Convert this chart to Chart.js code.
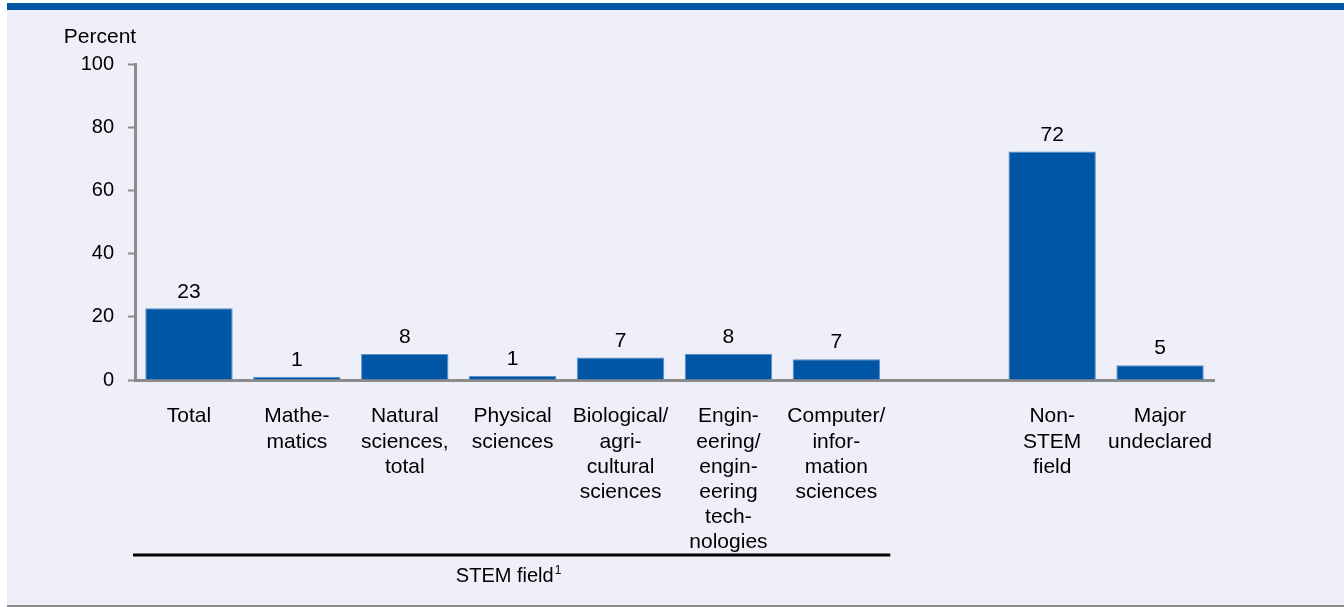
<!DOCTYPE html>
<html>
<head>
<meta charset="utf-8">
<script src="https://cdn.jsdelivr.net/npm/chart.js@4/dist/chart.umd.min.js"></script>
<style>
html,body{margin:0;padding:0;background:#fff;}
#frame{position:absolute;left:7px;top:3px;width:1337px;height:595px;background:#eeeff8;border-top:7px solid #0055a5;border-bottom:2px solid #8c8c8c;}
#wrap{position:absolute;left:0;top:0;width:1344px;height:607px;}
</style>
</head>
<body>
<div id="frame"></div>
<div id="wrap"><canvas id="chart"></canvas></div>
<script>
// категории (пустая — разрыв между STEM и остальными)
const categories = [
  ["Total"],
  ["Mathe-","matics"],
  ["Natural","sciences,","total"],
  ["Physical","sciences"],
  ["Biological/","agri-","cultural","sciences"],
  ["Engin-","eering/","engin-","eering","tech-","nologies"],
  ["Computer/","infor-","mation","sciences"],
  [""],
  ["Non-","STEM","field"],
  ["Major","undeclared"]
]
const percent = [22.7, 1.0, 8.2, 1.3, 7.1, 8.3, 6.6, null, 72.3, 4.7]
const valueLabels = ["23","1","8","1","7","8","7","","72","5"]
const yTicks = [0, 20, 40, 60, 80, 100]
const stemFirst = 0, stemLast = 6
const stemTitle = "STEM field"

const FONT = "'Liberation Sans', Arial, sans-serif"

const extras = {
  id: "extras",
  afterDatasetsDraw(chart){
    const c = chart.ctx
    const meta = chart.getDatasetMeta(0)
    const x = chart.scales.x
    c.save()
    c.fillStyle = "#000"
    c.font = "21px " + FONT
    c.textAlign = "center"
    c.textBaseline = "bottom"
    meta.data.forEach((bar,i)=>{
      if(percent[i]===null) return
      c.fillText(valueLabels[i], bar.x, bar.y - 6)
    })
    // подпись оси
    c.textBaseline = "middle"
    c.fillText("Percent", 100, 37)
    // скобка STEM
    const step = x.getPixelForValue(1) - x.getPixelForValue(0)
    const x0 = x.getPixelForValue(stemFirst) - step/2 - 2
    const x1 = x.getPixelForValue(stemLast) + step/2
    c.strokeStyle = "#000"
    c.lineWidth = 3
    c.beginPath()
    c.moveTo(x0, 555)
    c.lineTo(x1, 555)
    c.stroke()
    const tx = (x0 + x1)/2
    c.font = "20px " + FONT
    c.textAlign = "right"
    c.fillText(stemTitle, tx + 42, 576)
    c.font = "12px " + FONT
    c.textAlign = "left"
    c.fillText("1", tx + 43, 571)
    c.restore()
  }
}

new Chart(document.getElementById("chart"), {
  type: "bar",
  data: {
    labels: categories,
    datasets: [{
      data: percent,
      backgroundColor: "#0055a5",
      borderColor: "#5b8fc9",
      borderWidth: 1,
      categoryPercentage: 1,
      barPercentage: 0.81
    }]
  },
  plugins: [extras],
  options: {
    responsive: true,
    maintainAspectRatio: false,
    animation: false,
    layout: { padding: { top: 64, right: 130, left: 0, bottom: 0 } },
    plugins: { legend: { display: false }, tooltip: { enabled: false } },
    scales: {
      x: {
        grid: { display: false, drawTicks: false },
        border: { color: "#8c8c8c", width: 3 },
        ticks: {
          color: "#000",
          font: { family: FONT, size: 21, lineHeight: 1.2 },
          padding: 24,
          maxRotation: 0,
          autoSkip: false
        },
        afterFit(s){ s.height = 227 }
      },
      y: {
        min: 0, max: 100,
        afterBuildTicks(s){ s.ticks = yTicks.map(v=>({value:v})) },
        grid: { display: true, drawOnChartArea: false, drawTicks: true, tickLength: 7, tickColor: "#8c8c8c", tickWidth: 2 },
        border: { color: "#8c8c8c", width: 3 },
        ticks: { color: "#000", font: { family: FONT, size: 20 }, padding: 14 },
        afterFit(s){ s.width = 135 }
      }
    }
  }
})
</script>
</body>
</html>
